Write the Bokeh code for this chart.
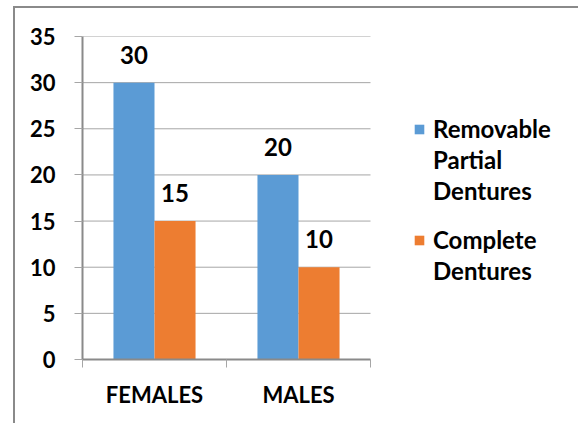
from bokeh.plotting import figure
from bokeh.models import (ColumnDataSource, Range1d, FixedTicker, LabelSet, Legend, LegendItem)
from bokeh.core.properties import value
from bokeh.transform import dodge
from bokeh.embed import file_html
from bokeh.resources import INLINE

categories = ["FEMALES", "MALES"]
series_names = ["Removable Partial Dentures", "Complete Dentures"]
legend_lines = [["Removable", "Partial", "Dentures"], ["Complete", "Dentures"]]
removable = [30, 20]
complete = [15, 10]
y_ticks = [0, 5, 10, 15, 20, 25, 30, 35]
colors = ["#5B9BD5", "#ED7D31"]

FONT = "Lato"
GRID = "#a6a6a6"
AXIS = "#8a8a8a"

n = len(categories)
centers = [i + 0.5 for i in range(n)]
src = ColumnDataSource(dict(cat=categories, x=centers, rem=removable, comp=complete,
                            rem_t=[str(v) for v in removable], comp_t=[str(v) for v in complete]))

FRAME_W, FRAME_H, CAT_PX = 496, 323, 144
p = figure(x_range=Range1d(0, n * FRAME_W / (n * CAT_PX)), y_range=Range1d(0, 35),
           frame_width=FRAME_W, frame_height=FRAME_H,
           output_backend="svg", toolbar_location=None,
           min_border_left=67, min_border_right=0, min_border_top=28, min_border_bottom=64,
           styles={"margin-left": "13px", "margin-top": "6px",
                   "border-top": "2px solid #8a8a8a", "border-left": "2px solid #8a8a8a"})
p.outline_line_color = None
p.xgrid.grid_line_color = None
p.ygrid.grid_line_color = None

# horizontal gridlines limited to the category area
p.segment(x0=0, x1=n, y0=y_ticks, y1=y_ticks, line_color=GRID, line_width=1, level="underlay")

yax = p.yaxis[0]
yax.ticker = FixedTicker(ticks=y_ticks)
yax.major_tick_out = 8
yax.major_tick_in = 0
yax.minor_tick_line_color = None
yax.major_tick_line_color = GRID
yax.axis_line_color = AXIS
yax.axis_line_width = 2
yax.major_label_text_font = FONT
yax.major_label_text_font_style = "bold"
yax.major_label_text_font_size = "22px"
yax.major_label_text_color = "black"
yax.major_label_standoff = 19

xax = p.xaxis[0]
xax.ticker = FixedTicker(ticks=centers, minor_ticks=list(range(n + 1)))
xax.major_label_overrides = {c: name for c, name in zip(centers, categories)}
xax.bounds = (0, n)
xax.major_tick_line_color = None
xax.major_tick_out = 0
xax.minor_tick_out = 8
xax.minor_tick_in = 0
xax.minor_tick_line_color = GRID
xax.axis_line_color = AXIS
xax.axis_line_width = 2
xax.major_label_text_font = FONT
xax.major_label_text_font_style = "bold"
xax.major_label_text_font_size = "22px"
xax.major_label_text_color = "black"
xax.major_label_standoff = 13

w = 0.285
r1 = p.vbar(x=dodge("x", -w / 2), top="rem", width=w, source=src,
            fill_color=colors[0], line_color=None)
r2 = p.vbar(x=dodge("x", w / 2), top="comp", width=w, source=src,
            fill_color=colors[1], line_color=None)

for xo, fld, txt in [(-w / 2, "rem", "rem_t"), (w / 2, "comp", "comp_t")]:
    ls = LabelSet(x=dodge("x", xo), y=fld, text=txt, source=src,
                  y_offset=19, text_align="center", text_baseline="bottom",
                  text_font=value(FONT), text_font_style="bold", text_font_size="24px",
                  text_color="black")
    p.add_layout(ls)

# invisible renderer used for the continuation lines of the wrapped legend labels
blank = p.scatter(x=[], y=[], fill_alpha=0, line_alpha=0)

for renderer, lines, loc in [(r1, legend_lines[0], (331, 153)), (r2, legend_lines[1], (331, 73))]:
    items = [LegendItem(label=lines[0], renderers=[renderer])]
    items += [LegendItem(label=t, renderers=[blank]) for t in lines[1:]]
    lg = Legend(items=items, location=loc, padding=0, margin=0, spacing=0,
                glyph_width=12, glyph_height=12, label_standoff=8, label_height=31,
                label_text_font=FONT, label_text_font_style="bold",
                label_text_font_size="24px", label_text_color="black",
                border_line_color=None, background_fill_alpha=0)
    p.add_layout(lg)

open("out.html", "w").write(file_html(p, INLINE))
